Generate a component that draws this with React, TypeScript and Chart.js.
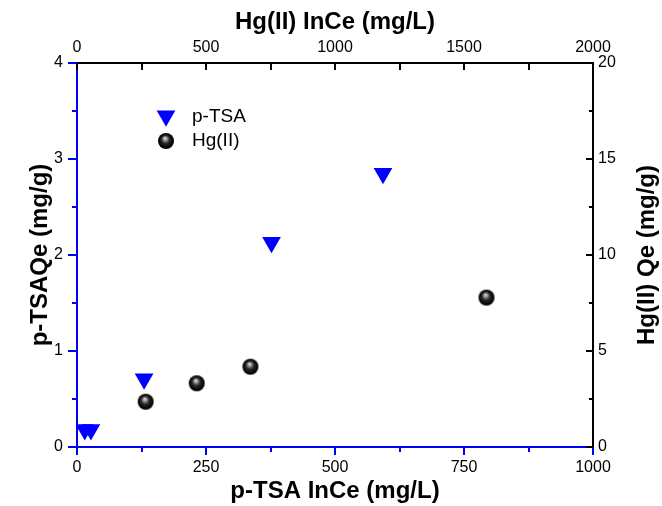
import React, { useEffect, useRef } from "react";
import { Chart, registerables } from "chart.js";

Chart.register(...registerables);

// p-TSA (bottom x / left y)
const ptsaCe = [15, 27, 130, 377, 593];
const ptsaQe = [0.18, 0.18, 0.71, 2.13, 2.85];
// Hg(II) (top x / right y)
const hgCe = [266, 464, 672, 1587];
const hgQe = [2.36, 3.32, 4.18, 7.78];

const bottomTicks = [0, 250, 500, 750, 1000];
const topTicks = [0, 500, 1000, 1500, 2000];
const leftTicks = [0, 1, 2, 3, 4];
const rightTicks = [0, 5, 10, 15, 20];

const seriesNames = ["p-TSA", "Hg(II)"];
const axisTitles = {
  bottom: "p-TSA InCe (mg/L)",
  top: "Hg(II) InCe (mg/L)",
  left: "p-TSAQe (mg/g)",
  right: "Hg(II) Qe (mg/g)",
};

const BLUE = "#0000ff";
const FONT = "'Liberation Sans', Arial, sans-serif";

function makeSphere(r: number): HTMLCanvasElement {
  const s = Math.ceil(r * 2 + 2);
  const c = document.createElement("canvas");
  c.width = s;
  c.height = s;
  const g = c.getContext("2d")!;
  const cx = s / 2;
  const cy = s / 2;
  const grad = g.createRadialGradient(cx - 1, cy - 3, 0, cx, cy, r);
  grad.addColorStop(0, "#f4f4f4");
  grad.addColorStop(0.22, "#9a9a9a");
  grad.addColorStop(0.5, "#2a2a2a");
  grad.addColorStop(0.85, "#050505");
  grad.addColorStop(1, "#000000");
  g.fillStyle = grad;
  g.beginPath();
  g.arc(cx, cy, r, 0, Math.PI * 2);
  g.fill();
  return c;
}

function drawDownTriangle(ctx: CanvasRenderingContext2D, x: number, y: number, r: number, color: string) {
  ctx.save();
  ctx.fillStyle = color;
  ctx.beginPath();
  let rad = Math.PI;
  ctx.moveTo(x + Math.sin(rad) * r, y - Math.cos(rad) * r);
  rad += (2 * Math.PI) / 3;
  ctx.lineTo(x + Math.sin(rad) * r, y - Math.cos(rad) * r);
  rad += (2 * Math.PI) / 3;
  ctx.lineTo(x + Math.sin(rad) * r, y - Math.cos(rad) * r);
  ctx.closePath();
  ctx.fill();
  ctx.restore();
}

const plain = (v: any) => String(v);

export default function App() {
  const ref = useRef<HTMLCanvasElement | null>(null);

  useEffect(() => {
    if (!ref.current) return;
    const sphere = makeSphere(8);
    const TRI_R = 10.8;

    const tickPlugin = {
      id: "customTicks",
      afterDraw(chart: any) {
        const ctx = chart.ctx as CanvasRenderingContext2D;
        const ca = chart.chartArea;
        const sx = chart.scales.x;
        const sx2 = chart.scales.x2;
        const sy = chart.scales.y;
        const sy2 = chart.scales.y2;
        ctx.save();
        ctx.lineWidth = 2;
        const tickSet = (
          scale: any, major: number[], step: number, color: string,
          draw: (p: number, len: number) => void, majLen: number, minLen: number
        ) => {
          ctx.strokeStyle = color;
          for (let i = 0; i < major.length; i++) {
            const p = Math.round(scale.getPixelForValue(major[i]));
            draw(p, majLen);
            if (i < major.length - 1) {
              const pm = Math.round(scale.getPixelForValue(major[i] + step / 2));
              draw(pm, minLen);
            }
          }
        };
        tickSet(sx, bottomTicks, 250, BLUE, (p, len) => {
          ctx.beginPath(); ctx.moveTo(p, ca.bottom); ctx.lineTo(p, ca.bottom + len); ctx.stroke();
        }, 8, 5);
        tickSet(sy, leftTicks, 1, BLUE, (p, len) => {
          ctx.beginPath(); ctx.moveTo(ca.left, p); ctx.lineTo(ca.left - len, p); ctx.stroke();
        }, 9, 5);
        tickSet(sx2, topTicks, 500, "#000", (p, len) => {
          ctx.beginPath(); ctx.moveTo(p, ca.top); ctx.lineTo(p, ca.top + len); ctx.stroke();
        }, 7, 7);
        tickSet(sy2, rightTicks, 5, "#000", (p, len) => {
          ctx.beginPath(); ctx.moveTo(ca.right, p); ctx.lineTo(ca.right - len, p); ctx.stroke();
        }, 7, 4);

        // right axis title, reading bottom-to-top
        ctx.fillStyle = "#000";
        ctx.font = `bold 24px ${FONT}`;
        ctx.textAlign = "center";
        ctx.textBaseline = "middle";
        ctx.save();
        ctx.translate(sy2.right - 15, (sy2.top + sy2.bottom) / 2);
        ctx.rotate(-Math.PI / 2);
        ctx.fillText(axisTitles.right, 0, 0);
        ctx.restore();

        // legend
        const lx = ca.left + 89;
        const ly = ca.top + 53;
        drawDownTriangle(ctx, lx, ly, TRI_R, BLUE);
        ctx.drawImage(sphere, lx - sphere.width / 2, ly + 25 - sphere.height / 2);
        ctx.fillStyle = "#000";
        ctx.font = `19px ${FONT}`;
        ctx.textBaseline = "middle";
        ctx.textAlign = "left";
        ctx.fillText(seriesNames[0], lx + 26, ly + 1);
        ctx.fillText(seriesNames[1], lx + 26, ly + 25);
        ctx.restore();
      },
    };

    const tickFont = { family: FONT, size: 16 };
    const titleFont = { family: FONT, size: 24, weight: "bold" as const };
    const noGrid = { display: false, drawTicks: false, tickLength: 0 };

    const chart = new Chart(ref.current, {
      type: "scatter",
      data: {
        datasets: [
          {
            label: seriesNames[0],
            data: ptsaCe.map((x, i) => ({ x, y: ptsaQe[i] })),
            xAxisID: "x",
            yAxisID: "y",
            pointStyle: "triangle",
            rotation: 180,
            pointRadius: TRI_R,
            pointBackgroundColor: BLUE,
            pointBorderColor: BLUE,
            pointBorderWidth: 0,
          },
          {
            label: seriesNames[1],
            data: hgCe.map((x, i) => ({ x, y: hgQe[i] })),
            xAxisID: "x2",
            yAxisID: "y2",
            pointStyle: sphere,
            pointRadius: 8,
          },
        ],
      },
      options: {
        responsive: false,
        animation: false,
        plugins: { legend: { display: false }, tooltip: { enabled: false } },
        layout: { padding: 0 },
        scales: {
          x: {
            type: "linear",
            position: "bottom",
            min: 0,
            max: 1000,
            afterBuildTicks: (s: any) => { s.ticks = bottomTicks.map((v) => ({ value: v })); },
            afterFit: (s: any) => { s.height = 59; },
            grid: noGrid,
            border: { display: true, color: BLUE, width: 2 },
            ticks: { color: "#000", font: tickFont, padding: 11, maxRotation: 0, autoSkip: false, callback: plain },
            title: { display: true, text: axisTitles.bottom, color: "#000", font: titleFont, padding: { bottom: 0, top: 0 } },
          },
          x2: {
            type: "linear",
            position: "top",
            min: 0,
            max: 2000,
            afterBuildTicks: (s: any) => { s.ticks = topTicks.map((v) => ({ value: v })); },
            afterFit: (s: any) => { s.height = 63; },
            grid: noGrid,
            border: { display: true, color: "#000", width: 2 },
            ticks: { color: "#000", font: tickFont, padding: 6, maxRotation: 0, autoSkip: false, callback: plain },
            title: { display: true, text: axisTitles.top, color: "#000", font: titleFont, padding: { top: 8, bottom: 0 } },
          },
          y: {
            type: "linear",
            position: "left",
            min: 0,
            max: 4,
            afterBuildTicks: (s: any) => { s.ticks = leftTicks.map((v) => ({ value: v })); },
            afterFit: (s: any) => { s.width = 77; },
            grid: noGrid,
            border: { display: true, color: BLUE, width: 2 },
            ticks: { color: "#000", font: tickFont, padding: 14, autoSkip: false, callback: plain },
            title: { display: true, text: axisTitles.left, color: "#000", font: titleFont, padding: { top: 26, bottom: 0 } },
          },
          y2: {
            type: "linear",
            position: "right",
            min: 0,
            max: 20,
            afterBuildTicks: (s: any) => { s.ticks = rightTicks.map((v) => ({ value: v })); },
            afterFit: (s: any) => { s.width = 69; },
            grid: noGrid,
            border: { display: true, color: "#000", width: 2 },
            ticks: { color: "#000", font: tickFont, padding: 5, autoSkip: false, callback: plain },
            title: { display: false, text: axisTitles.right },
          },
        },
      },
      plugins: [tickPlugin],
    } as any);

    return () => chart.destroy();
  }, []);

  return (
    <div style={{ position: "absolute", left: 0, top: 0, width: 662, height: 506, background: "#fff" }}>
      <canvas ref={ref} width={662} height={506} style={{ display: "block" }} />
    </div>
  );
}
